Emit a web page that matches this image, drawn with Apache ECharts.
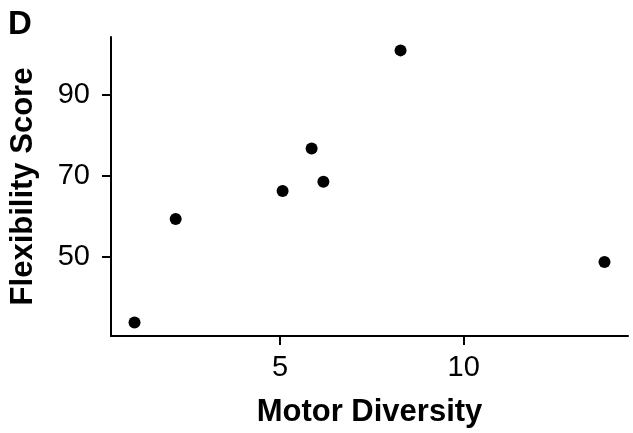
<!DOCTYPE html>
<html>
<head>
<meta charset="utf-8">
<script src="https://cdn.jsdelivr.net/npm/echarts@6/dist/echarts.min.js"></script>
<style>
  html, body { margin: 0; padding: 0; background: #fff; }
  #chart { width: 633px; height: 433px; }
</style>
</head>
<body>
<div id="chart"></div>
<script>
// values
const motorDiversity = [1.04, 2.16, 5.07, 5.86, 6.18, 8.28, 13.83];
const flexibilityScore = [33.9, 59.4, 66.3, 76.8, 68.6, 101.0, 48.8];
const xTicks = [5, 10];
const yTicks = [50, 70, 90];

const chart = echarts.init(document.getElementById('chart'), null, { renderer: 'canvas' });

const font = 'Liberation Sans, Arial, sans-serif';

chart.setOption({
  animation: false,
  title: {
    text: 'D',
    left: 3,
    top: 3,
    textStyle: { fontFamily: font, fontSize: 33, fontWeight: 'bold', color: '#000' }
  },
  grid: {
    left: 111,
    right: 5,
    top: 37,
    bottom: 90
  },
  xAxis: {
    type: 'value',
    min: 0.4,
    max: 14.47,
    name: 'Motor Diversity',
    nameLocation: 'middle',
    nameGap: 61,
    nameTextStyle: { fontFamily: font, fontSize: 31, fontWeight: 'bold', color: '#000' },
    axisLine: { show: true, onZero: false, lineStyle: { color: '#000', width: 2 } },
    axisTick: { show: true, length: 9, customValues: xTicks, lineStyle: { color: '#000', width: 2 } },
    axisLabel: { customValues: xTicks, margin: 17, fontFamily: font, fontSize: 29, color: '#000' },
    splitLine: { show: false }
  },
  yAxis: {
    type: 'value',
    min: 30.55,
    max: 104.3,
    name: 'Flexibility Score',
    nameLocation: 'middle',
    nameGap: 72,
    nameRotate: 90,
    nameTextStyle: { fontFamily: font, fontSize: 31, fontWeight: 'bold', color: '#000' },
    axisLine: { show: true, onZero: false, lineStyle: { color: '#000', width: 2 } },
    axisTick: { show: true, length: 9, customValues: yTicks, lineStyle: { color: '#000', width: 2 } },
    axisLabel: { customValues: yTicks, margin: 21, fontFamily: font, fontSize: 29, color: '#000' },
    splitLine: { show: false }
  },
  series: [
    {
      type: 'scatter',
      symbol: 'circle',
      symbolSize: 12,
      itemStyle: { color: '#000', opacity: 1 },
      data: motorDiversity.map((x, i) => [x, flexibilityScore[i]])
    }
  ]
});
</script>
</body>
</html>
